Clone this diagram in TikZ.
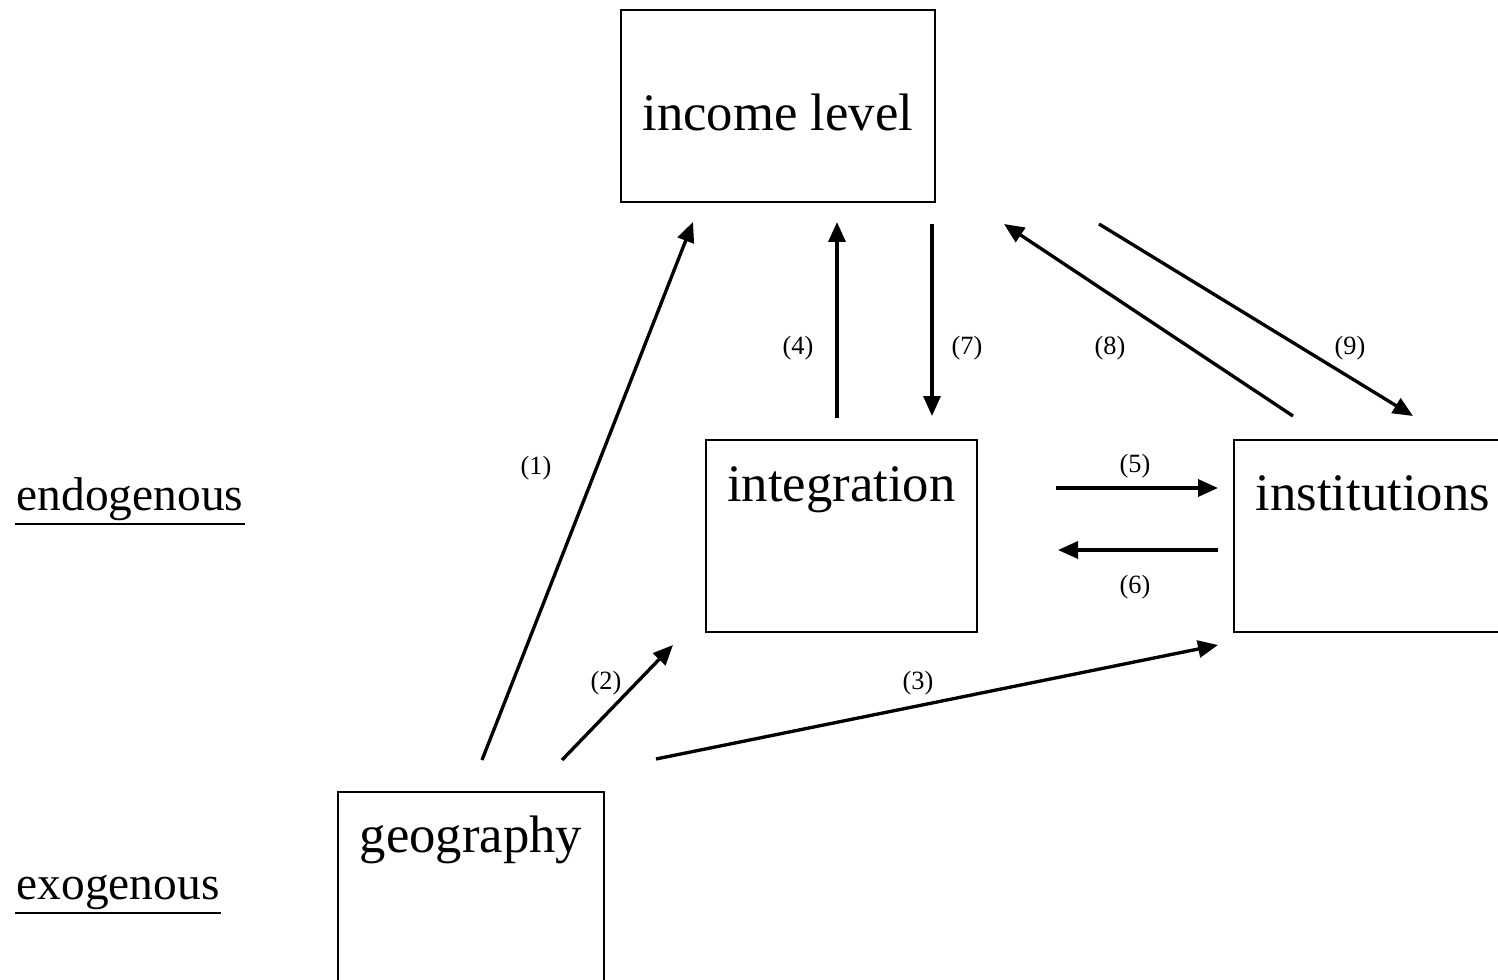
\documentclass[tikz,border=0pt]{standalone}
\usepackage{fontspec}
\setmainfont{Liberation Serif}
\usetikzlibrary{arrows.meta,positioning}

\begin{document}
\begin{tikzpicture}[x=0.02cm,y=-0.02cm,->,>={Triangle[length=0.4cm,width=0.34cm]},line width=1.9pt,
  box/.style={draw,line width=1.1pt,inner sep=0pt,anchor=north west,font=\fontsize{30}{36}\selectfont},
  num/.style={font=\fontsize{15}{18}\selectfont},
  tag/.style={anchor=base west,inner sep=0pt,font=\fontsize{27}{32}\selectfont}]

  \clip (0,0) rectangle (1498,980);

  % boxes
  \node[box,minimum width=6.28cm,text height=2.42cm,text depth=1.42cm] (income) at (620,9) {income level};
  \node[box,minimum width=5.42cm,text height=1.24cm,text depth=2.6cm] (integ) at (705,439) {integration};
  \node[box,minimum width=5.56cm,text height=1.42cm,text depth=2.42cm] (inst) at (1233,439) {institutions};
  \node[box,minimum width=5.32cm,text height=1.22cm,text depth=2.62cm] (geo) at (337,791) {geography};

  \node[tag] (endo) at (15,510) {endogenous};
  \node[tag] (exo) at (15,899) {exogenous};
  \draw[-,line width=1.6pt] ([yshift=-1.2pt]endo.south west) -- ([yshift=-1.2pt]endo.south east);
  \draw[-,line width=1.6pt] ([yshift=-1.2pt]exo.south west) -- ([yshift=-1.2pt]exo.south east);

  % arrow ends
  \coordinate (a1) at (482,760); \coordinate (b1) at (693,222);
  \coordinate (a2) at (562,760); \coordinate (b2) at (673,645);
  \coordinate (a3) at (656,759); \coordinate (b3) at (1218,645);
  \coordinate (a4) at (837,418); \coordinate (b4) at (837,222);
  \coordinate (a5) at (1056,488); \coordinate (b5) at (1218,488);
  \coordinate (a6) at (1218,550); \coordinate (b6) at (1058,550);
  \coordinate (a7) at (932,224); \coordinate (b7) at (932,416);
  \coordinate (a8) at (1293,416); \coordinate (b8) at (1004,224);
  \coordinate (a9) at (1099,224); \coordinate (b9) at (1413,416);

  \path
  (a1) edge (b1)
  (a2) edge (b2)
  (a3) edge (b3)
  (a4) edge (b4)
  (a5) edge (b5)
  (a6) edge (b6)
  (a7) edge (b7)
  (a8) edge (b8)
  (a9) edge (b9)
  ;

  % labels
  \node[num] (n1) at (536,468) {(1)};
  \node[num] (n2) at (606,683) {(2)};
  \node[num] (n3) at (918,683) {(3)};
  \node[num] (n4) at (798,348) {(4)};
  \node[num] (n5) at (1135,466) {(5)};
  \node[num] (n6) at (1135,587) {(6)};
  \node[num] (n7) at (967,348) {(7)};
  \node[num] (n8) at (1110,348) {(8)};
  \node[num] (n9) at (1350,348) {(9)};
\end{tikzpicture}
\end{document}
